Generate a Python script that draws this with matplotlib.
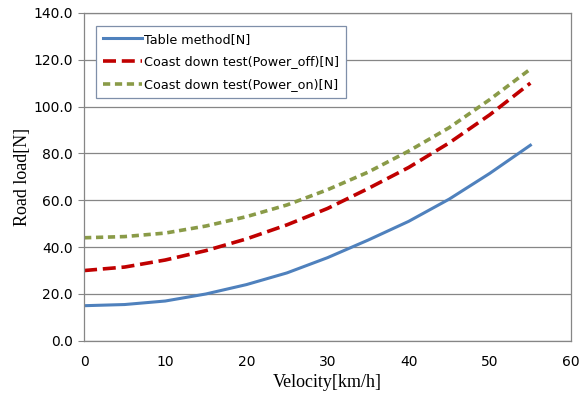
import matplotlib.pyplot as plt
import numpy as np

velocity = [0, 5, 10, 15, 20, 25, 30, 35, 40, 45, 50, 55]
table_method = [15.0, 15.5, 17.0, 20.0, 24.0, 29.0, 35.5, 43.0, 51.0, 60.5, 71.5, 83.5]
power_off = [30.0, 31.5, 34.5, 38.5, 43.5, 49.5, 56.5, 65.0, 74.0, 84.5, 96.5, 110.0]
power_on = [44.0, 44.5, 46.0, 49.0, 53.0, 58.0, 64.5, 72.0, 81.0, 91.0, 103.0, 116.0]

y_ticks = np.arange(0, 141, 20)
x_ticks = np.arange(0, 61, 10)

fig = plt.figure(figsize=(5.88, 4.01), dpi=100)
ax = fig.add_axes([0.143, 0.150, 0.828, 0.818])

ax.plot(velocity, table_method, color='#4F81BD', linewidth=2.2, label='Table method[N]')
ax.plot(velocity, power_off, color='#C00000', linewidth=2.6, dashes=(3.6, 1.6),
        label='Coast down test(Power_off)[N]')
ax.plot(velocity, power_on, color='#8A9B48', linewidth=2.6, dashes=(2.0, 1.3),
        label='Coast down test(Power_on)[N]')

ax.set_xlim(0, 60)
ax.set_ylim(0, 140)
ax.set_xticks(x_ticks)
ax.set_yticks(y_ticks)
ax.set_yticklabels([f'{v:.1f}' for v in y_ticks])
ax.tick_params(axis='x', length=0, pad=10, labelsize=10)
ax.tick_params(axis='y', length=4, color='#868686', labelsize=10, pad=4)
ax.grid(axis='y', color='#868686', linewidth=0.9)
ax.set_axisbelow(True)
for s in ax.spines.values():
    s.set_color('#868686')
    s.set_linewidth(0.9)

ax.set_xlabel('Velocity[km/h]', fontsize=13, family='Liberation Serif', labelpad=4)
ax.set_ylabel('Road load[N]', fontsize=13, family='Liberation Serif', labelpad=2)

leg = ax.legend(loc='upper left', bbox_to_anchor=(0.012, 0.98), fontsize=9.2,
                handlelength=3.0, handletextpad=0.2, labelspacing=0.75,
                fancybox=False, framealpha=1, borderpad=0.55)
leg.get_frame().set_edgecolor('#7F8FA9')
leg.get_frame().set_linewidth(0.9)

plt.savefig('out.png', dpi=100)
plt.close()
